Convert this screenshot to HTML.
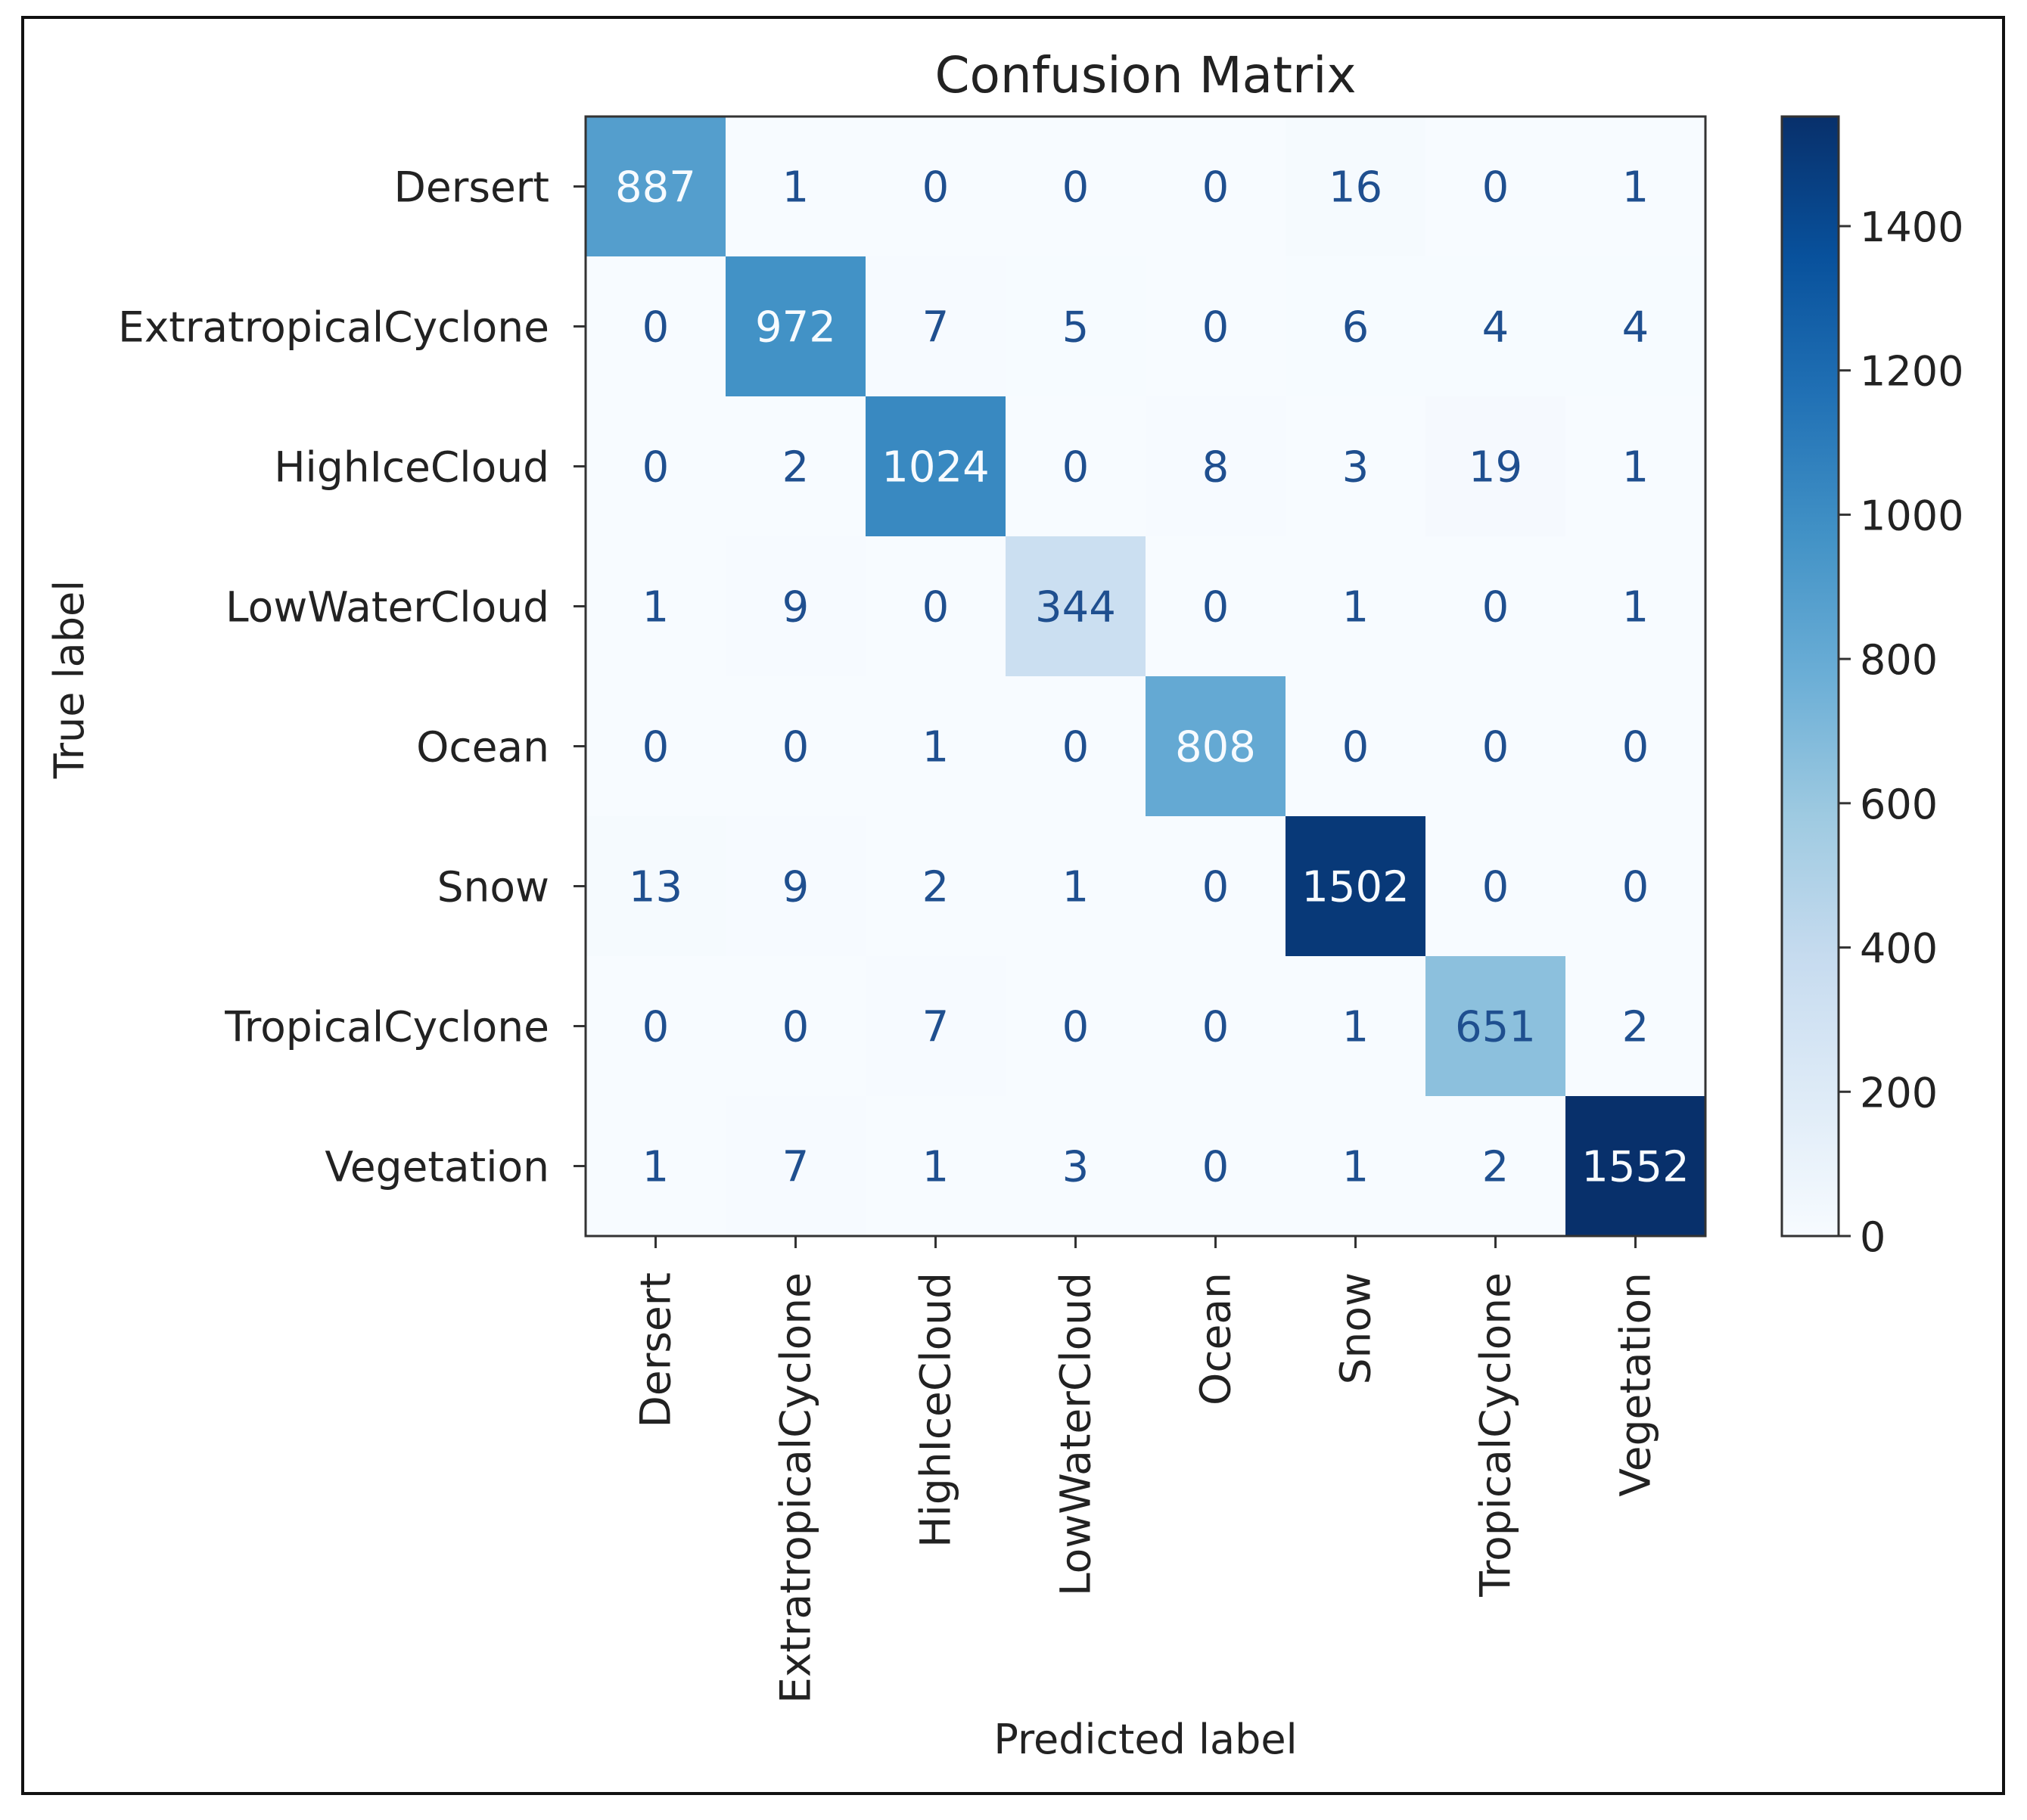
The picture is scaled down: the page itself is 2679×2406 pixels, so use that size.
<!DOCTYPE html>
<html><head><meta charset="utf-8">
<style>
html,body{margin:0;padding:0;background:#fff;}
svg text{font-family:"DejaVu Sans","Liberation Sans",sans-serif;}
</style></head>
<body>
<svg id="chart" width="2679" height="2401" viewBox="0 0 2679 2401" xmlns="http://www.w3.org/2000/svg">
<rect x="30" y="23" width="2618" height="2348" fill="#fff" stroke="#111" stroke-width="4"/>
<text x="1514" y="122" font-size="66" text-anchor="middle" fill="#222">Confusion Matrix</text>
<g id="cells"></g>
<g id="axes"></g>
<text x="1514" y="2318" font-size="54" text-anchor="middle" fill="#222">Predicted label</text>
<text transform="translate(110,898) rotate(-90)" font-size="54" text-anchor="middle" fill="#222">True label</text>
<defs><linearGradient id="cbgrad" x1="0" y1="1" x2="0" y2="0">
<stop offset="0" stop-color="#f7fbff"/><stop offset="0.125" stop-color="#deebf7"/><stop offset="0.25" stop-color="#c6dbef"/><stop offset="0.375" stop-color="#9ecae1"/><stop offset="0.5" stop-color="#6baed6"/><stop offset="0.625" stop-color="#4292c6"/><stop offset="0.75" stop-color="#2171b5"/><stop offset="0.875" stop-color="#08519c"/><stop offset="1" stop-color="#08306b"/>
</linearGradient></defs>
<g id="colorbar"></g>
</svg>
<script>
const categories = ["Dersert","ExtratropicalCyclone","HighIceCloud","LowWaterCloud","Ocean","Snow","TropicalCyclone","Vegetation"];
const row0 = [887,1,0,0,0,16,0,1];
const row1 = [0,972,7,5,0,6,4,4];
const row2 = [0,2,1024,0,8,3,19,1];
const row3 = [1,9,0,344,0,1,0,1];
const row4 = [0,0,1,0,808,0,0,0];
const row5 = [13,9,2,1,0,1502,0,0];
const row6 = [0,0,7,0,0,1,651,2];
const row7 = [1,7,1,3,0,1,2,1552];
const colorbarTicks = [0,200,400,600,800,1000,1200,1400];

const matrix = [row0,row1,row2,row3,row4,row5,row6,row7];
const NS="http://www.w3.org/2000/svg";
const PL=774, PT=154, PW=1480, PH=1480;
const n = categories.length;
const cw = PW/n, ch = PH/n;
let vmax = 0, vmin = Infinity;
matrix.forEach(r=>r.forEach(v=>{vmax=Math.max(vmax,v);vmin=Math.min(vmin,v);}));
const stops=["#f7fbff","#deebf7","#c6dbef","#9ecae1","#6baed6","#4292c6","#2171b5","#08519c","#08306b"].map(h=>[parseInt(h.slice(1,3),16),parseInt(h.slice(3,5),16),parseInt(h.slice(5,7),16)]);
function blues(t){t=Math.max(0,Math.min(1,t));const p=t*8;const i=Math.min(7,Math.floor(p));const f=p-i;const a=stops[i],b=stops[i+1];return "rgb("+a.map((c,k)=>Math.round(c+(b[k]-c)*f)).join(",")+")";}
function xPos(j){return PL+cw*(j+0.5);}
function yPos(i){return PT+ch*(i+0.5);}
function mk(tag,attrs,parent){const e=document.createElementNS(NS,tag);for(const k in attrs)e.setAttribute(k,attrs[k]);parent.appendChild(e);return e;}
const cells=document.getElementById('cells');
const thresh=(vmax+vmin)/2;
matrix.forEach((r,i)=>r.forEach((v,j)=>{
  const rc=mk('rect',{x:xPos(j)-cw/2,y:yPos(i)-ch/2,width:cw+0.5,height:ch+0.5,fill:blues((v-vmin)/(vmax-vmin))},cells);
  
  
  const t=mk('text',{x:xPos(j),y:yPos(i)+20,'font-size':56,'text-anchor':'middle',fill:v>thresh?blues(0):'#1f4f8f'},cells);
  
  
  t.textContent=v;
}));
const axes=document.getElementById('axes');
const frame=mk('rect',{x:PL,y:PT,width:PW,height:PH,fill:'none',stroke:'#333','stroke-width':3},axes);


categories.forEach((c,i)=>{
  mk('line',{x1:PL-16,x2:PL,y1:yPos(i),y2:yPos(i),stroke:'#333','stroke-width':3},axes);
  const yl=mk('text',{x:PL-48,y:yPos(i)+20,'font-size':55,'text-anchor':'end',fill:'#222'},axes);
  
  
  yl.textContent=c;
  mk('line',{x1:xPos(i),x2:xPos(i),y1:PT+PH,y2:PT+PH+16,stroke:'#333','stroke-width':3},axes);
  const xl=mk('text',{transform:'translate('+(xPos(i)+19)+','+(PT+PH+48)+') rotate(-90)','font-size':55,'text-anchor':'end',fill:'#222'},axes);
  
  
  xl.textContent=c;
});
const cb=document.getElementById('colorbar');
const CL=2355, CW=75, CT=PT, CB=PT+PH;
function cbY(v){return CB-(v-vmin)/(vmax-vmin)*(CB-CT);}
const cbr=mk('rect',{x:CL,y:CT,width:CW,height:CB-CT,fill:'url(#cbgrad)',stroke:'#333','stroke-width':3},cb);


colorbarTicks.forEach(v=>{
  mk('line',{x1:CL+CW,x2:CL+CW+16,y1:cbY(v),y2:cbY(v),stroke:'#333','stroke-width':3},cb);
  const t=mk('text',{x:CL+CW+28,y:cbY(v)+20,'font-size':54,fill:'#222'},cb);
  
  
  t.textContent=v;
});
</script>
</body></html>
